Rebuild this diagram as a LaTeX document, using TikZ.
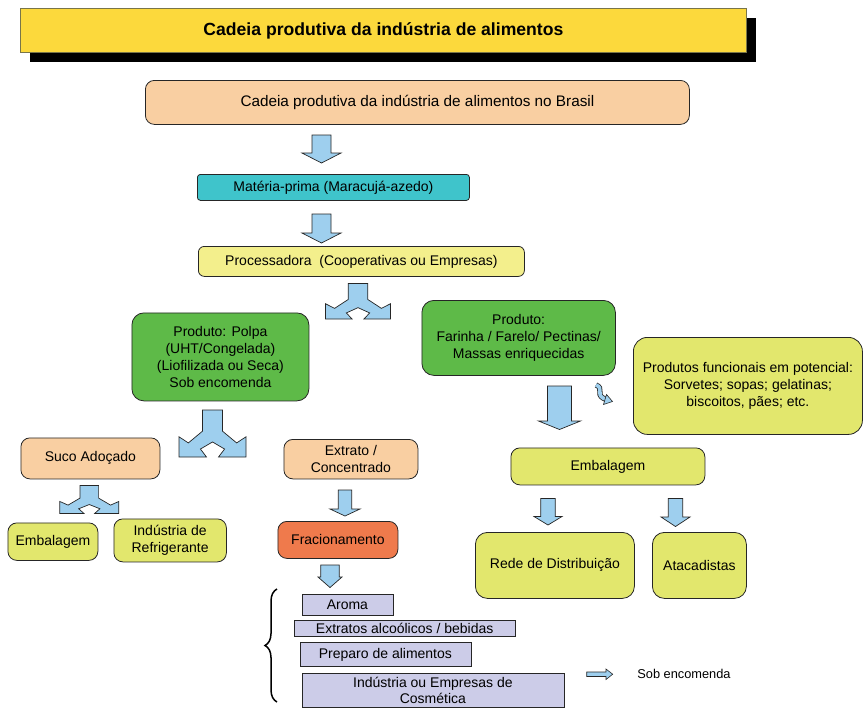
\documentclass[tikz,border=0pt]{standalone}
\usepackage{fontspec}
\setmainfont{Liberation Sans}
\usetikzlibrary{decorations.pathreplacing}
\definecolor{titley}{HTML}{FCD93C}
\definecolor{peach}{HTML}{F9CFA2}
\definecolor{teal}{HTML}{3FC4CB}
\definecolor{paley}{HTML}{F3EF8C}
\definecolor{grn}{HTML}{5EBA48}
\definecolor{ygrn}{HTML}{E2E76D}
\definecolor{orng}{HTML}{EF7A4C}
\definecolor{lav}{HTML}{CCCCE8}
\definecolor{arrb}{HTML}{9ECFEE}
\newcommand\fsA{\fontsize{14}{17}\selectfont}
\newcommand\dnarr[6]{\draw[barrow] (#1-#5,#2) -- (#1+#5,#2) -- (#1+#5,#3) -- (#1+#6,#3) -- (#1,#4) -- (#1-#6,#3) -- (#1-#5,#3) -- cycle;}
\newcommand\splitarr[5]{\draw[barrow] (#1-#5,#2) -- (#1+#5,#2) -- (#1+#5,#2+0.45*#4) -- (#1+0.72*#3,#2+0.7*#4) -- (#1+#3,#2+0.57*#4) -- (#1+#3,#2+#4) -- (#1+0.18*#3,#2+#4) -- (#1+0.36*#3,#2+0.83*#4) -- (#1,#2+0.68*#4) -- (#1-0.36*#3,#2+0.83*#4) -- (#1-0.18*#3,#2+#4) -- (#1-#3,#2+#4) -- (#1-#3,#2+0.57*#4) -- (#1-0.72*#3,#2+0.7*#4) -- (#1-#5,#2+0.45*#4) -- cycle;}
\tikzset{
  bx/.style={draw=black!85, line width=0.8pt, rounded corners=9pt, align=center, inner sep=0pt, anchor=north west, font=\fsA},
  sq/.style={draw=black!85, line width=0.8pt, align=center, inner sep=0pt, anchor=north west, font=\fsA},
  barrow/.style={draw=black!85, line width=0.7pt, fill=arrb, line join=miter},
}
\begin{document}
\begin{tikzpicture}[x=1pt,y=-1pt]
\useasboundingbox (0,0) rectangle (864,707);
% title
\node[fill=black, inner sep=0pt, anchor=north west, minimum width=726pt, minimum height=44pt] (shadow) at (30,18) {};
\node[draw=black!60!yellow, line width=0.8pt, fill=titley, inner sep=0pt, anchor=north west, minimum width=726pt, minimum height=44pt, font=\fontsize{17.6}{20}\selectfont\bfseries] (title) at (20,8) {Cadeia produtiva da indústria de alimentos};
% main chain
\node[bx, fill=peach, minimum width=544pt, minimum height=44pt, font=\fontsize{15.3}{18}\selectfont] (top) at (145,80) {Cadeia produtiva da indústria de alimentos no Brasil};
\node[bx, fill=teal, rounded corners=3pt, minimum width=272pt, minimum height=26pt] (mat) at (197,174) {Matéria-prima (Maracujá-azedo)};
\node[bx, fill=paley, rounded corners=6pt, minimum width=326pt, minimum height=30pt] (proc) at (198,246) {Processadora\ \ (Cooperativas ou Empresas)};
\node[bx, fill=grn, rounded corners=12pt, minimum width=177pt, minimum height=88pt] (g1) at (131.5,312.5) {Produto: Polpa\\(UHT/Congelada)\\(Liofilizada ou Seca)\\Sob encomenda};
\node[bx, fill=grn, rounded corners=12pt, minimum width=193.5pt, minimum height=75pt] (g2) at (421.5,300) {Produto:\\Farinha / Farelo/ Pectinas/\\Massas enriquecidas};
\node[bx, fill=ygrn, rounded corners=14pt, minimum width=229pt, minimum height=97pt] (func) at (633,337) {Produtos funcionais em potencial:\\Sorvetes; sopas; gelatinas;\\biscoitos, pães; etc.};
\node[bx, fill=peach, minimum width=139pt, minimum height=41pt] (suco) at (20.5,437.5) {Suco Adoçado};
\node[bx, fill=peach, minimum width=134pt, minimum height=39.5pt] (extr) at (283.5,439) {Extrato /\\Concentrado};
\node[bx, fill=ygrn, minimum width=194pt, minimum height=37pt] (embr) at (510.5,447.5) {Embalagem};
\node[bx, fill=ygrn, minimum width=90pt, minimum height=37.5pt] (embl) at (7.5,522.5) {Embalagem};
\node[bx, fill=ygrn, minimum width=112.5pt, minimum height=43pt] (refr) at (113.5,518.5) {Indústria de\\Refrigerante};
\node[bx, fill=orng, minimum width=120pt, minimum height=37pt] (frac) at (277.5,521) {Fracionamento};
\node[bx, fill=ygrn, rounded corners=12pt, minimum width=159pt, minimum height=66pt] (rede) at (475,532) {Rede de Distribuição};
\node[bx, fill=ygrn, rounded corners=12pt, minimum width=94pt, minimum height=66pt] (atac) at (652,532) {Atacadistas};
% lavender list
\node[sq, fill=lav, minimum width=91pt, minimum height=21pt] (aroma) at (301.5,593.5) {Aroma};
\node[sq, fill=lav, minimum width=221.5pt, minimum height=16.5pt] (extb) at (293.5,619.5) {Extratos alcoólicos / bebidas};
\node[sq, fill=lav, minimum width=171pt, minimum height=24pt] (prep) at (299.5,642) {Preparo de alimentos};
\node[sq, fill=lav, minimum width=262pt, minimum height=34pt, font=\fontsize{14}{16.6}\selectfont] (cosm) at (301.5,673) {Indústria ou Empresas de\\Cosmética};
\draw[line width=1.5pt, decorate, decoration={brace, amplitude=12pt}] (277,702) -- (277,589);
% block arrows
\dnarr{321.5}{135}{153}{163}{9.5}{19.5}
\dnarr{321.5}{214}{233}{243}{9.5}{19.5}
\dnarr{559.5}{386}{421}{429.5}{12}{21}
\dnarr{548}{498.5}{516.5}{525}{7.3}{14}
\dnarr{675.5}{498.5}{517}{526.5}{7.2}{14.5}
\dnarr{345}{490}{509}{516}{6.7}{15}
\dnarr{330}{565}{577}{587.5}{9.3}{12}
\splitarr{358}{283.5}{32.5}{35.5}{9.8}
\splitarr{212.5}{410}{33.5}{47}{10}
\splitarr{89.3}{485.5}{29.5}{28}{9.3}
% curvy arrow
\draw[line width=5.2pt, black!85, line cap=butt] (596,385) .. controls (604,388) and (596,394) .. (603,398) -- (606,399.5);
\draw[line width=3.6pt, arrb, line cap=butt] (596,385) .. controls (604,388) and (596,394) .. (603,398) -- (606.5,399.7);
\draw[barrow, line width=0.6pt] (606.5,394.5) -- (612.5,401.5) -- (603.5,404.5) -- cycle;
% legend arrow
\draw[barrow, line width=0.6pt] (586.7,672) -- (606,672) -- (606,669) -- (612.7,674.2) -- (606,679.5) -- (606,676.5) -- (586.7,676.5) -- cycle;
\node[font=\fontsize{12.8}{15}\selectfont, inner sep=0pt] (sobl) at (684,673.5) {Sob encomenda};
\end{tikzpicture}
\end{document}
